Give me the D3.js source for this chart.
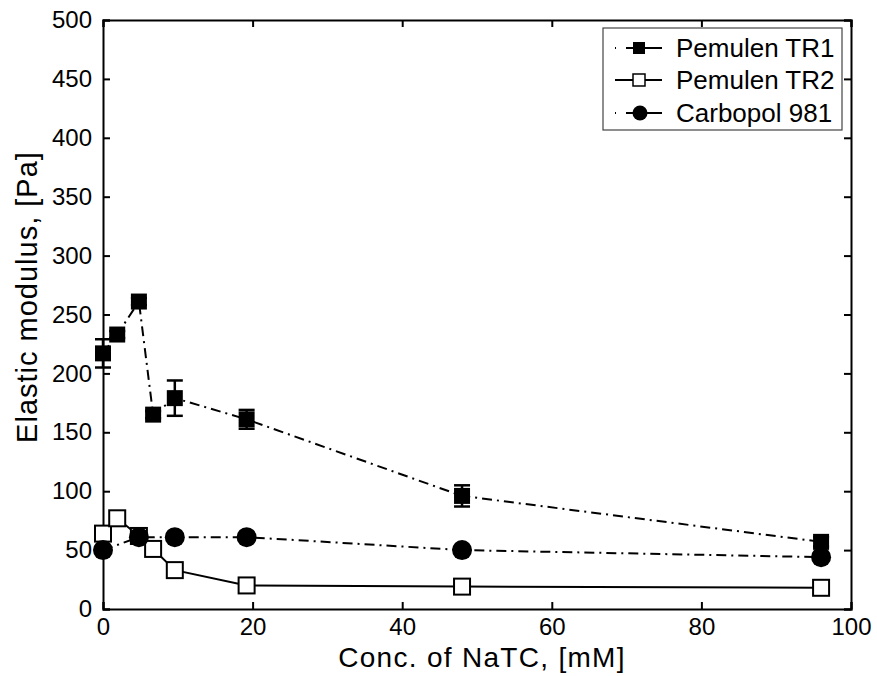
<!DOCTYPE html>
<html>
<head>
<meta charset="utf-8">
<script src="https://cdn.jsdelivr.net/npm/d3@7"></script>
<style>
  body { margin: 0; background: #fff; }
  text { font-family: "Liberation Sans", Arial, Helvetica, sans-serif; fill: #000; }
</style>
</head>
<body>
<div id="root"></div>
<script>
// data
const xTicks = [0, 20, 40, 60, 80, 100];
const yTicks = [0, 50, 100, 150, 200, 250, 300, 350, 400, 450, 500];

const tr1X = [0, 1.9, 4.8, 6.7, 9.6, 19.2, 48, 96];
const tr1Y = [217, 233, 261, 165, 179, 161, 96, 57];
const tr1Err = [12, 3, 3, 3, 15, 8, 9, 4];

const tr2X = [0, 1.9, 4.8, 6.7, 9.6, 19.2, 48, 96];
const tr2Y = [64, 77, 62, 51, 33, 20, 19, 18];

const cbX = [0, 4.8, 9.6, 19.2, 48, 96];
const cbY = [50, 61, 61, 61, 50, 44];

const seriesNames = ["Pemulen TR1", "Pemulen TR2", "Carbopol 981"];

// Margin convention
const margin = { top: 20, right: 26, bottom: 67, left: 103 },
  width = 877 - margin.left - margin.right,
  height = 676 - margin.top - margin.bottom;

const svg = d3.select("#root")
  .append("svg")
  .attr("width", 877)
  .attr("height", 676)
  .append("g")
  .attr("transform", "translate(" + margin.left + "," + margin.top + ")");

const x = d3.scaleLinear().domain([0, 100]).range([0, width]);
const y = d3.scaleLinear().domain([0, 500]).range([height, 0]);

const tickLen = 7;
const dashDot = "10,5,2,5";

// axes (inward ticks on all four sides)
const axB = svg.append("g").attr("transform", "translate(0," + height + ")")
  .call(d3.axisBottom(x).tickValues(xTicks).tickSize(-tickLen).tickPadding(10));
const axT = svg.append("g")
  .call(d3.axisTop(x).tickValues(xTicks).tickSize(-tickLen).tickFormat(""));
const axL = svg.append("g")
  .call(d3.axisLeft(y).tickValues(yTicks).tickSize(-tickLen).tickPadding(11));
const axR = svg.append("g").attr("transform", "translate(" + width + ",0)")
  .call(d3.axisRight(y).tickValues(yTicks).tickSize(-tickLen).tickFormat(""));

[axB, axT, axL, axR].forEach(function(a) {
  a.select(".domain").attr("stroke", "#000").attr("stroke-width", 2);
  a.selectAll(".tick line").attr("stroke", "#000").attr("stroke-width", 2);
  a.selectAll(".tick text").style("font-size", "24px").attr("fill", "#000");
});
axB.selectAll(".tick text").attr("dy", "0.68em");

// axis labels
svg.append("text")
  .attr("x", width / 2 + 5)
  .attr("y", height + 58)
  .attr("text-anchor", "middle")
  .style("font-size", "28px")
  .style("letter-spacing", "1.3px")
  .text("Conc. of NaTC, [mM]");

svg.append("text")
  .attr("transform", "translate(" + (-66) + "," + (297 - margin.top) + ")rotate(-90)")
  .attr("text-anchor", "middle")
  .style("font-size", "29px")
  .style("letter-spacing", "1px")
  .text("Elastic modulus, [Pa]");

const line = d3.line().x(function(d) { return x(d[0]); }).y(function(d) { return y(d[1]); });

const tr1 = tr1X.map(function(v, i) { return [v, tr1Y[i], tr1Err[i]]; });
const tr2 = tr2X.map(function(v, i) { return [v, tr2Y[i]]; });
const cb = cbX.map(function(v, i) { return [v, cbY[i]]; });

// Pemulen TR2 (solid, open squares)
svg.append("path").datum(tr2).attr("d", line)
  .attr("fill", "none").attr("stroke", "#000").attr("stroke-width", 2);
svg.selectAll(".tr2")
  .data(tr2).enter().append("rect")
  .attr("x", function(d) { return x(d[0]) - 8; })
  .attr("y", function(d) { return y(d[1]) - 8; })
  .attr("width", 16).attr("height", 16)
  .attr("fill", "#fff").attr("stroke", "#000").attr("stroke-width", 2);

// Pemulen TR1 (dash-dot, filled squares, error bars)
svg.append("path").datum(tr1).attr("d", line)
  .attr("fill", "none").attr("stroke", "#000").attr("stroke-width", 2)
  .attr("stroke-dasharray", dashDot);

const eb = svg.selectAll(".err").data(tr1).enter().append("g")
  .attr("stroke", "#000").attr("stroke-width", 2.5);
eb.append("line")
  .attr("x1", function(d) { return x(d[0]); }).attr("x2", function(d) { return x(d[0]); })
  .attr("y1", function(d) { return y(d[1] - d[2]); }).attr("y2", function(d) { return y(d[1] + d[2]); });
eb.append("line")
  .attr("x1", function(d) { return x(d[0]) - 8; }).attr("x2", function(d) { return x(d[0]) + 8; })
  .attr("y1", function(d) { return y(d[1] - d[2]); }).attr("y2", function(d) { return y(d[1] - d[2]); });
eb.append("line")
  .attr("x1", function(d) { return x(d[0]) - 8; }).attr("x2", function(d) { return x(d[0]) + 8; })
  .attr("y1", function(d) { return y(d[1] + d[2]); }).attr("y2", function(d) { return y(d[1] + d[2]); });

svg.selectAll(".tr1")
  .data(tr1).enter().append("rect")
  .attr("x", function(d) { return x(d[0]) - 8; })
  .attr("y", function(d) { return y(d[1]) - 8; })
  .attr("width", 16).attr("height", 16)
  .attr("fill", "#000");

// Carbopol 981 (dash-dot, filled circles)
svg.append("path").datum(cb).attr("d", line)
  .attr("fill", "none").attr("stroke", "#000").attr("stroke-width", 2)
  .attr("stroke-dasharray", dashDot);
svg.selectAll(".cb")
  .data(cb).enter().append("circle")
  .attr("cx", function(d) { return x(d[0]); })
  .attr("cy", function(d) { return y(d[1]); })
  .attr("r", 10)
  .attr("fill", "#000");

// legend
const lg = svg.append("g").attr("transform", "translate(" + (603 - margin.left) + "," + (28 - margin.top) + ")");
lg.append("rect").attr("width", 239).attr("height", 102)
  .attr("fill", "#fff").attr("stroke", "#444").attr("stroke-width", 1.2);

const rowY = [20, 52, 85];
seriesNames.forEach(function(name, i) {
  const row = lg.append("g").attr("transform", "translate(0," + rowY[i] + ")");
  row.append("line").attr("x1", 12).attr("x2", 59).attr("y1", 0).attr("y2", 0)
    .attr("stroke", "#000").attr("stroke-width", 2)
    .attr("stroke-dasharray", i === 1 ? null : "1,10,36");
  if (i === 0) {
    row.append("rect").attr("x", 30).attr("y", -6).attr("width", 12).attr("height", 12).attr("fill", "#000");
  } else if (i === 1) {
    row.append("rect").attr("x", 30).attr("y", -6).attr("width", 12).attr("height", 12)
      .attr("fill", "#fff").attr("stroke", "#000").attr("stroke-width", 1.5);
  } else {
    row.append("circle").attr("cx", 37).attr("cy", 0).attr("r", 7.5).attr("fill", "#000");
  }
  row.append("text").attr("x", 73).attr("y", 0).attr("dy", "0.36em")
    .style("font-size", "26px").text(name);
});
</script>
</body>
</html>
